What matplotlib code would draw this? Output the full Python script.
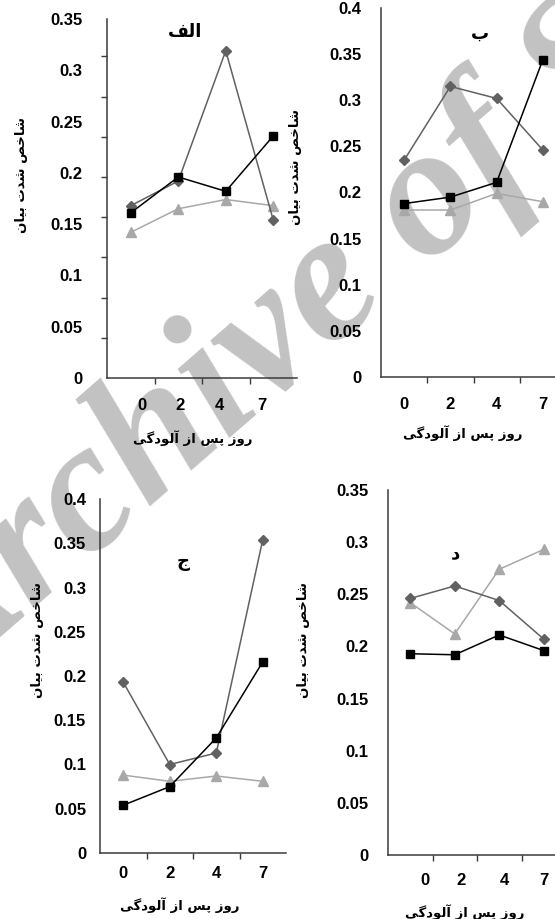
import numpy as np
import matplotlib
matplotlib.use("Agg")
import matplotlib.pyplot as plt

# ---------------- data ----------------
days = ['0', '2', '4', '7']

alef_diamond = [0.168, 0.192, 0.319, 0.154]
alef_square = [0.161, 0.196, 0.182, 0.236]
alef_triangle = [0.142, 0.165, 0.174, 0.168]

be_diamond = [0.235, 0.315, 0.302, 0.246]
be_square = [0.188, 0.195, 0.211, 0.344]
be_triangle = [0.181, 0.181, 0.199, 0.190]

jim_diamond = [0.193, 0.100, 0.113, 0.354]
jim_square = [0.054, 0.075, 0.130, 0.216]
jim_triangle = [0.088, 0.081, 0.087, 0.081]

dal_diamond = [0.246, 0.258, 0.244, 0.207]
dal_square = [0.193, 0.192, 0.211, 0.196]
dal_triangle = [0.242, 0.212, 0.274, 0.293]

panel_titles = ['الف', 'ب', 'ج', 'د']
y_title = 'شاخص شدت بیان'
x_title = 'روز پس از آلودگی'
watermark = 'Archive of SID'

# ---------------- simple Arabic/Persian shaping ----------------
FORMS = {
    '\u0627': ('\uFE8D', '\uFE8E', None, None),
    '\u0622': ('\uFE81', '\uFE82', None, None),
    '\u0628': ('\uFE8F', '\uFE90', '\uFE91', '\uFE92'),
    '\u062A': ('\uFE95', '\uFE96', '\uFE97', '\uFE98'),
    '\u062C': ('\uFE9D', '\uFE9E', '\uFE9F', '\uFEA0'),
    '\u062E': ('\uFEA5', '\uFEA6', '\uFEA7', '\uFEA8'),
    '\u062F': ('\uFEA9', '\uFEAA', None, None),
    '\u0631': ('\uFEAD', '\uFEAE', None, None),
    '\u0632': ('\uFEAF', '\uFEB0', None, None),
    '\u0633': ('\uFEB1', '\uFEB2', '\uFEB3', '\uFEB4'),
    '\u0634': ('\uFEB5', '\uFEB6', '\uFEB7', '\uFEB8'),
    '\u0635': ('\uFEB9', '\uFEBA', '\uFEBB', '\uFEBC'),
    '\u0641': ('\uFED1', '\uFED2', '\uFED3', '\uFED4'),
    '\u0644': ('\uFEDD', '\uFEDE', '\uFEDF', '\uFEE0'),
    '\u0646': ('\uFEE5', '\uFEE6', '\uFEE7', '\uFEE8'),
    '\u0648': ('\uFEED', '\uFEEE', None, None),
    '\u06CC': ('\uFBFC', '\uFBFD', '\uFBFE', '\uFBFF'),
    '\u067E': ('\uFB56', '\uFB57', '\uFB58', '\uFB59'),
    '\u06AF': ('\uFB92', '\uFB93', '\uFB94', '\uFB95'),
}


def shape(s):
    out = []
    n = len(s)
    for i, ch in enumerate(s):
        if ch not in FORMS:
            out.append(ch)
            continue
        f = FORMS[ch]
        prev = s[i - 1] if i > 0 else None
        nxt = s[i + 1] if i < n - 1 else None
        jp = prev in FORMS and FORMS[prev][2] is not None
        jn = f[2] is not None and nxt in FORMS
        if jp and jn:
            out.append(f[3])
        elif jp:
            out.append(f[1])
        elif jn:
            out.append(f[2])
        else:
            out.append(f[0])
    return ''.join(reversed(out))


# ---------------- figure ----------------
W, H = 555, 919
fig = plt.figure(figsize=(W / 100, H / 100), dpi=100)
fig.patch.set_facecolor('white')

# watermark behind everything (anchored at baseline start)
fig.text(-60 / W, 1 - 698 / H, watermark, rotation=41, rotation_mode='anchor',
         fontsize=134, family='Liberation Serif', weight='bold', style='italic',
         color='#c2c2c2', ha='left', va='baseline', zorder=-5)

C_DIA = '#616161'
C_SQ = '#000000'
C_TRI = '#a8a8a8'
C_AX = '#3a3a3a'

panels = [
    dict(d=(alef_diamond, alef_square, alef_triangle), ymax=0.35, tstep=0.0392,
         box=(107, 19, 297, 378), title=(185, 32), ylab=(22, 175), xlab=(193, 438),
         xl=[0.23, 1.04, 1.87, 2.77], ypad=13.5, xpad=14.5),
    dict(d=(be_diamond, be_square, be_triangle), ymax=0.4, tstep=0.05,
         box=(381, 8, 566, 377), title=(480, 34), ylab=(295, 167), xlab=(463, 433),
         xl=[0, 1, 2, 3], ypad=10, xpad=14.5),
    dict(d=(jim_diamond, jim_square, jim_triangle), ymax=0.4, tstep=0.05,
         box=(100, 499, 286, 853), title=(183, 562), ylab=(38, 640), xlab=(180, 905),
         xl=[0, 1, 2, 3], ypad=6, xpad=9),
    dict(d=(dal_diamond, dal_square, dal_triangle), ymax=0.35, tstep=0.05,
         box=(388, 490, 566, 855), title=(455, 553), ylab=(303, 640), xlab=(465, 912),
         xl=[0.34, 1.13, 2.11, 3.0], ypad=10, xpad=13),
]

lab_font = dict(family='DejaVu Sans', weight='bold')

for p, ttl in zip(panels, panel_titles):
    x0, top, x1, bot = p['box']
    ax = fig.add_axes([x0 / W, 1 - bot / H, (x1 - x0) / W, (bot - top) / H])
    ax.set_facecolor('none')
    x = np.arange(len(days))
    dia, sq, tri = p['d']
    ax.plot(x, tri, color=C_TRI, lw=1.1, marker='^', ms=6.5, mfc=C_TRI, mec=C_TRI, zorder=3)
    ax.plot(x, dia, color=C_DIA, lw=1.1, marker='D', ms=4.8, mfc=C_DIA, mec=C_DIA, zorder=4)
    ax.plot(x, sq, color=C_SQ, lw=1.1, marker='s', ms=5.8, mfc=C_SQ, mec=C_SQ, zorder=5)
    ax.set_xlim(-0.5, 3.5)
    ax.set_ylim(0, p['ymax'])
    for s in ['top', 'right']:
        ax.spines[s].set_visible(False)
    for s in ['left', 'bottom']:
        ax.spines[s].set_color(C_AX)
        ax.spines[s].set_linewidth(1.1)
    # y axis: labels every 0.05, tick marks as minor ticks
    yt = np.round(np.arange(0, p['ymax'] + 1e-9, 0.05), 2)
    ax.set_yticks(yt)
    ax.set_yticklabels(['0' if v == 0 else ('%g' % v) for v in yt])
    ax.set_yticks(np.arange(0, p['ymax'] - 0.01, p['tstep']), minor=True)
    ax.tick_params(axis='y', which='major', length=0, pad=p['ypad'] + 4, labelsize=12)
    ax.tick_params(axis='y', which='minor', direction='out', length=4, width=1, color=C_AX)
    # x axis: tick marks at category boundaries, labels separately
    ax.set_xticks([0.5, 1.5, 2.5], minor=True)
    ax.set_xticks(p['xl'])
    ax.set_xticklabels(days)
    ax.tick_params(axis='x', which='major', length=0, pad=p['xpad'], labelsize=12)
    ax.tick_params(axis='x', which='minor', direction='out', length=4, width=1, color=C_AX)
    for lab in ax.get_xticklabels() + ax.get_yticklabels():
        lab.set_family('Liberation Sans')
        lab.set_fontweight('bold')
    # texts
    fig.text(p['title'][0] / W, 1 - p['title'][1] / H, shape(ttl), fontsize=13,
             ha='center', va='center', family='DejaVu Sans', weight='bold',
             bbox=dict(facecolor='white', edgecolor='none', pad=4), zorder=6)
    fig.text(p['ylab'][0] / W, 1 - p['ylab'][1] / H, shape(y_title), rotation=90,
             fontsize=9.5, ha='center', va='center', **lab_font)
    fig.text(p['xlab'][0] / W, 1 - p['xlab'][1] / H, shape(x_title),
             fontsize=9.5, ha='center', va='center', **lab_font)

fig.savefig('out.png', dpi=100, facecolor='white')
